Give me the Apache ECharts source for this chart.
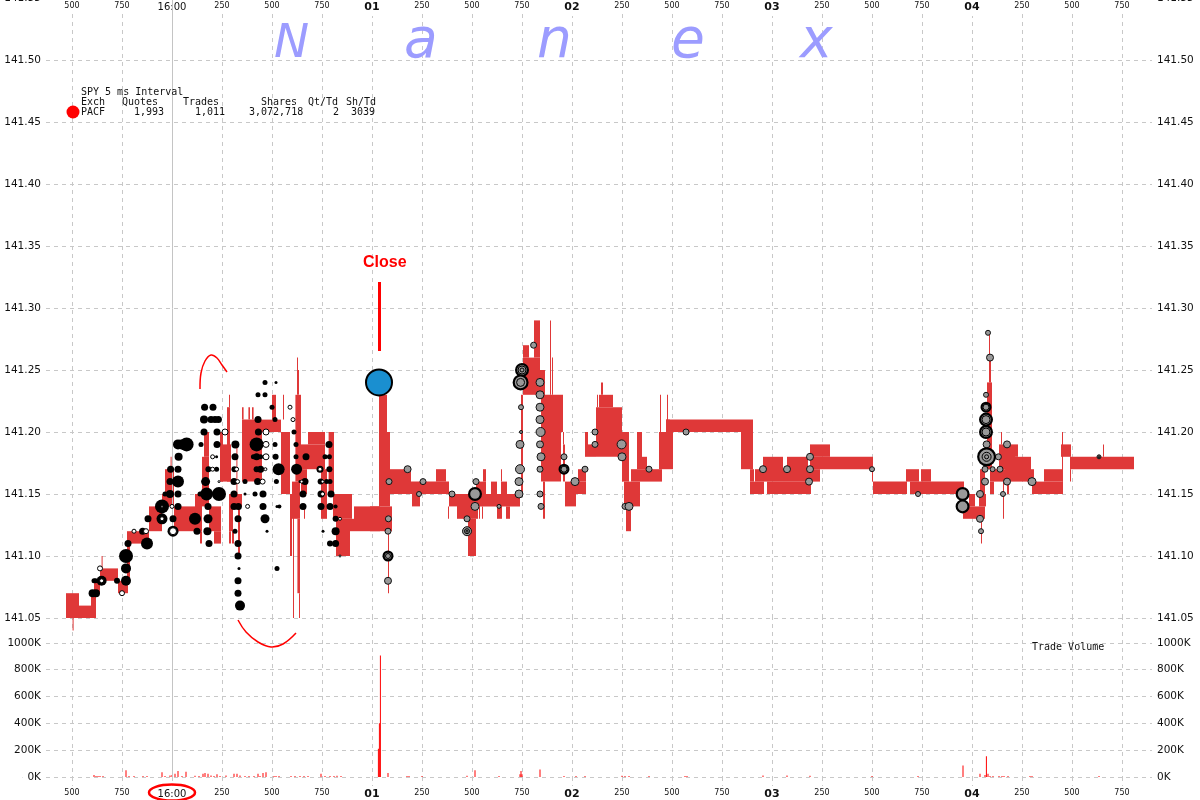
<!DOCTYPE html>
<html><head><meta charset="utf-8">
<style>html,body{margin:0;padding:0;background:#fff}#c{width:1200px;height:800px}</style>
<script src="https://cdn.jsdelivr.net/npm/echarts@6/dist/echarts.min.js"></script>
</head><body><div id="c"></div>
<script>
// time is milliseconds after 16:00:00
const majorTickLabels = ['16:00','01','02','03','04'];
const priceTicksMin = 141.05, priceTicksMax = 141.55;
const summaryRow = ['PACF','1,993','1,011','3,072,718','2','3039'];
const summaryHead = ['Exch','Quotes','Trades','Shares','Qt/Td','Sh/Td'];

// [start, end, low, high]
const quoteBand = [
[-530,-465,141.05,141.07],[-465,-405,141.05,141.06],[-405,-380,141.05,141.07],[-497,-492,141.04,141.05],
[-390,-360,141.07,141.08],[-360,-270,141.08,141.09],[-352,-347,141.09,141.10],[-270,-220,141.07,141.08],
[-225,-210,141.08,141.11],[-225,-115,141.11,141.12],[-115,-50,141.12,141.14],[-50,-35,141.14,141.15],
[-35,10,141.14,141.17],[-7,-2,141.17,141.18],[10,115,141.12,141.14],[115,150,141.12,141.15],[140,150,141.11,141.12],
[150,185,141.14,141.18],[160,185,141.18,141.20],[185,245,141.12,141.14],[210,245,141.11,141.12],[240,255,141.16,141.20],
[245,295,141.16,141.19],[275,290,141.16,141.22],[285,290,141.22,141.23],[285,305,141.12,141.15],[285,295,141.11,141.12],
[300,310,141.11,141.12],[322,327,141.15,141.19],[330,340,141.10,141.14],[305,350,141.14,141.15],
[350,450,141.16,141.21],[350,358,141.21,141.22],[382,390,141.21,141.22],[400,408,141.21,141.22],[450,545,141.20,141.21],
[500,520,141.21,141.23],[555,560,141.21,141.23],[545,590,141.15,141.20],[590,600,141.10,141.15],[605,610,141.05,141.14],
[600,640,141.13,141.16],[617,645,141.16,141.23],[625,630,141.23,141.26],[630,635,141.23,141.25],[627,640,141.07,141.13],
[635,640,141.05,141.07],[640,765,141.17,141.19],[680,765,141.19,141.20],[660,665,141.13,141.14],[645,675,141.15,141.17],
[745,775,141.13,141.17],[783,810,141.15,141.20],[805,900,141.13,141.15],[820,890,141.10,141.13],[890,910,141.12,141.13],
[910,1040,141.12,141.14],
[990,1100,141.12,141.14],[1035,1075,141.14,141.23],[1075,1090,141.14,141.20],[1080,1085,141.07,141.12],[1090,1195,141.15,141.17],
[1195,1385,141.15,141.16],[1320,1370,141.16,141.17],[1200,1240,141.14,141.15],[1385,1425,141.14,141.15],[1380,1385,141.13,141.14],
[1425,1530,141.13,141.15],[1530,1740,141.14,141.15],[1480,1520,141.10,141.13],[1520,1570,141.15,141.16],[1555,1570,141.16,141.17],
[1535,1540,141.13,141.14],[1550,1555,141.13,141.14],[1595,1625,141.15,141.16],[1625,1650,141.13,141.14],[1645,1650,141.16,141.17],
[1645,1675,141.15,141.16],[1670,1690,141.13,141.14],[1745,1755,141.15,141.23],[1755,1840,141.23,141.26],[1755,1785,141.26,141.27],
[1810,1840,141.26,141.29],[1840,1865,141.23,141.25],[1845,1945,141.16,141.23],[1945,1955,141.20,141.23],[1855,1865,141.13,141.16],
[1890,1895,141.23,141.29],[1900,1905,141.23,141.26],[1955,1965,141.16,141.19],[1955,1960,141.19,141.20],[1965,2020,141.14,141.16],
[2020,2070,141.15,141.16],[2030,2070,141.16,141.17],[2065,2080,141.18,141.20],[2080,2120,141.18,141.19],[2120,2250,141.18,141.22],
[2135,2205,141.22,141.23],[2145,2155,141.23,141.24],[2125,2130,141.22,141.23],[2250,2285,141.16,141.20],[2270,2295,141.12,141.14],
[2260,2340,141.14,141.16],[2295,2450,141.16,141.17],[2325,2350,141.17,141.20],[2350,2375,141.17,141.18],[2435,2505,141.17,141.20],
[2440,2445,141.20,141.23],[2475,2480,141.20,141.23],[2470,2490,141.20,141.21],[2470,2905,141.20,141.21],[2845,2905,141.17,141.20],
[2890,2910,141.16,141.17],[2890,2960,141.15,141.16],[2915,2955,141.16,141.17],[2955,3055,141.16,141.18],[2975,3195,141.15,141.16],
[3055,3075,141.16,141.17],[3075,3180,141.16,141.18],[3180,3240,141.16,141.17],[3190,3290,141.18,141.19],[3190,3505,141.17,141.18],
[3500,3505,141.16,141.17],[3505,3675,141.15,141.16],[3670,3735,141.16,141.17],[3690,3960,141.15,141.16],[3745,3795,141.16,141.17],
[3955,4065,141.13,141.14],[3985,4015,141.14,141.15],[4035,4070,141.14,141.15],[4040,4065,141.15,141.17],[4045,4050,141.11,141.13],
[4075,4100,141.17,141.24],[4085,4095,141.24,141.26],[4085,4090,141.26,141.28],[4090,4110,141.15,141.16],[4090,4175,141.16,141.17],
[4135,4175,141.17,141.19],[4145,4150,141.19,141.20],[4165,4215,141.16,141.19],[4155,4160,141.13,141.16],[4175,4185,141.15,141.16],
[4215,4230,141.18,141.19],[4215,4295,141.16,141.18],[4295,4310,141.16,141.17],[4300,4455,141.15,141.16],[4360,4455,141.16,141.17],
[4445,4495,141.18,141.19],[4450,4455,141.16,141.20],[4490,4495,141.16,141.17],[4490,4810,141.17,141.18],[4655,4660,141.18,141.19]
];

// [time, price, shares]
const tradesBeforeClose = [
[-397,141.07,6400],[-380,141.07,6400],[-390,141.08,2500],[-382,141.08,2500],[-352,141.08,10000],[-275,141.08,3600],
[-230,141.08,10000],[-230,141.09,10000],[-230,141.10,19600],[-220,141.11,4900],[-147,141.12,4900],[-125,141.11,14400],
[-120,141.13,4900],[-50,141.13,12100],[-50,141.14,19600],[5,141.12,12100],[5,141.13,4900],[30,141.14,4900],[30,141.15,4900],
[-10,141.15,6400],[-35,141.15,2500],[30,141.16,14400],[-10,141.16,4900],[-7,141.17,4900],[30,141.17,4900],[33,141.18,6400],
[30,141.19,10000],[48,141.19,10000],[73,141.19,19600],[140,141.15,2500],[173,141.15,16900],[115,141.13,14400],[125,141.12,4900],
[177,141.12,6400],[185,141.11,4900],[180,141.13,8100],[180,141.14,4900],[168,141.16,8100],[235,141.15,19600],[182,141.17,3600],
[223,141.17,2500],[223,141.18,900],[225,141.19,4900],[145,141.19,2500],[160,141.20,4900],[225,141.20,4900],[160,141.21,6400],
[195,141.21,4900],[215,141.21,4900],[232,141.21,4900],[163,141.22,4900],[205,141.22,4900],
[317,141.19,6400],[315,141.18,4900],[312,141.17,3600],[310,141.16,4900],[365,141.16,2500],[310,141.15,4900],[365,141.15,900],
[310,141.14,4900],[332,141.14,4900],[330,141.13,4900],[315,141.12,2500],[330,141.11,4900],[330,141.10,4900],[335,141.09,900],
[330,141.08,4900],[330,141.07,4900],[340,141.06,10000],
[415,141.15,2500],[455,141.15,4900],[455,141.14,4900],[465,141.13,8100],[475,141.12,900],[428,141.16,4900],[423,141.17,3600],
[443,141.17,4900],[407,141.18,2500],[423,141.18,4900],[443,141.18,2500],[423,141.19,19600],[432,141.20,4900],[430,141.21,4900],
[515,141.21,2500],[500,141.22,2500],[430,141.23,2500],[465,141.23,2500],[465,141.24,2500],[520,141.24,900],[515,141.19,2500],
[518,141.18,3600],[533,141.17,14400],[522,141.16,2500],[525,141.14,900],[537,141.14,1600],[525,141.09,2500],[610,141.20,2500],
[620,141.19,2500],[620,141.18,2500],[670,141.18,4900],[623,141.17,12100],[665,141.16,4900],[640,141.16,900],[655,141.15,4900],
[655,141.14,4900],[787,141.17,3600],[743,141.16,3600],[773,141.16,2500],[790,141.16,2500],[795,141.15,4900],[745,141.14,4900],
[790,141.14,4900],[818,141.14,1600],[818,141.13,3600],[755,141.12,900],[818,141.12,6400],[790,141.11,3600],[818,141.11,4900],
[785,141.19,4900],[765,141.18,2500],[787,141.18,2500],[740,141.17,4900],[745,141.15,4900]
];
const oddLots = [
[-352,141.08,2500],[-360,141.09,3600],[-250,141.07,3600],[-190,141.12,2500],[-130,141.12,3600],[-50,141.13,2500],[-50,141.14,900],
[5,141.12,6400],[0,141.14,2500],[235,141.16,900],[203,141.17,2500],[203,141.18,2500],[265,141.20,4900],[323,141.17,2500],
[328,141.16,2500],[378,141.14,2500],[453,141.16,3600],[467,141.17,1600],[470,141.18,4900],[470,141.19,4900],[470,141.20,4900],
[605,141.21,2500],[590,141.22,2500],[648,141.16,1600],[740,141.17,2500],[753,141.16,1600],[753,141.15,2500],[840,141.13,1600],[840,141.10,900]
];
const tradesAfterClose = [
[1082,141.13,4900],[1080,141.12,4900],[1080,141.10,12100],[1080,141.08,6400],[1178,141.17,6400],[1085,141.16,4900],[1255,141.16,4900],
[1235,141.15,3600],[1400,141.15,4900],[1520,141.16,4900],[1515,141.15,19600],[1515,141.14,8100],[1475,141.13,4900],[1475,141.12,10000],
[1635,141.14,2500],[1808,141.27,4900],[1750,141.25,19600],[1743,141.24,25600],[1840,141.24,8100],[1840,141.23,8100],[1745,141.22,3600],
[1840,141.22,8100],[1840,141.21,8100],[1843,141.20,10000],[1745,141.20,1600],[1740,141.19,8100],[1840,141.19,6400],[1845,141.18,8100],
[1740,141.17,10000],[1840,141.17,4900],[1735,141.16,8100],[1735,141.15,8100],[1840,141.15,4900],[1845,141.14,4900],[1960,141.18,4900],
[1960,141.17,12100],[2015,141.16,8100],[2115,141.20,4900],[2115,141.19,4900],[2248,141.19,10000],[2250,141.18,8100],[2065,141.17,4900],
[2385,141.17,4900],[2265,141.14,4900],[2285,141.14,8100],[2570,141.20,4900],[2955,141.17,6400],[3075,141.17,6400],[3190,141.18,6400],
[3190,141.17,6400],[3185,141.16,6400],[3500,141.17,3600],[3730,141.15,3600],[3953,141.15,19600],[3953,141.14,19600],[4040,141.15,6400],
[4040,141.13,6400],[4045,141.12,3600],[4065,141.16,6400],[4065,141.17,4900],[4073,141.19,6400],[4073,141.18,36100],[4070,141.20,19600],
[4070,141.21,19600],[4070,141.22,12100],[4070,141.23,3600],[4090,141.26,6400],[4080,141.28,3600],[4132,141.18,4900],[4140,141.17,4900],
[4103,141.17,3600],[4155,141.15,3600],[4175,141.19,6400],[4175,141.16,6400],[4300,141.16,8100],[4635,141.18,2500]
];
const stackedTrades = [
[1080,141.10,3600],[1475,141.12,3600],[1475,141.12,900],[1750,141.25,8100],[1750,141.25,2500],[1743,141.24,8100],
[1960,141.17,4900],[4073,141.18,10000],[4073,141.18,2500],[4070,141.20,8100],[4070,141.21,8100],[4070,141.22,4900],[4635,141.18,400]
];
const closingCross = [[1035,141.24,78400]];

const volumeTimes = [-390,-380,-370,-360,-345,-230,-215,-190,-145,-125,-50,-35,-10,0,15,30,50,70,115,135,155,165,180,195,210,225,240,270,310,325,340,365,385,410,430,440,455,470,510,520,535,595,615,640,660,680,745,765,790,810,825,845,1032,1037,1042,1080,1175,1185,1250,1475,1515,1635,1740,1745,1750,1840,1960,2020,2065,2250,2265,2285,2385,2565,2575,2955,3075,3190,3500,3730,3955,4040,4065,4072,4080,4090,4105,4135,4150,4160,4180,4290,4300,4635];
const volumeValues = [15,8,5,5,5,50,5,5,5,5,35,5,12,15,25,45,5,40,10,8,25,30,25,12,8,20,8,12,25,25,12,5,5,8,25,8,30,35,8,5,8,5,5,5,5,5,25,8,5,5,10,5,210,400,905,30,5,5,5,10,50,5,20,45,20,55,5,5,5,10,5,5,5,5,5,12,12,10,5,5,85,25,15,155,25,8,5,5,5,5,5,5,5,5];

const mono = '"DejaVu Sans Mono", monospace';
const sans = '"DejaVu Sans", sans-serif';
const gridLine = {color:'#c8c8c8', type:[4,4], width:1};
const sizeOf = d => Math.sqrt(d[2]/100);

function tickText(v){
  if (v % 250 !== 0 || v < -500) return '';
  if (v % 1000 === 0) {
    const s = majorTickLabels[v/1000];
    return v === 0 ? '{noon|'+s+'}' : '{major|'+s+'}';
  }
  return '{minor|'+(((v%1000)+1000)%1000)+'}';
}
const tickRich = {
  minor:{fontFamily:sans,fontSize:8,color:'#111'},
  noon:{fontFamily:sans,fontSize:10,color:'#111'},
  major:{fontFamily:sans,fontSize:11,fontWeight:'bold',color:'#111'}
};
const xCommon = {type:'value',min:-750,max:4900,interval:250,
  axisLine:{show:false},
  splitLine:{show:true,showMinLine:false,showMaxLine:false,lineStyle:gridLine}};
function yPrice(pos){return {type:'value',gridIndex:0,position:pos,min:priceTicksMin,max:priceTicksMax,interval:0.05,
  offset:pos==='left'?-24:0,
  axisLine:{show:false},axisTick:{show:false},
  splitLine:{show:pos==='left',lineStyle:gridLine},
  axisLabel:{fontFamily:sans,fontSize:10.5,color:'#111',margin:0,padding:[1,5,1,5],backgroundColor:pos==='left'?'#fff':'transparent',formatter:v=>v.toFixed(2)}};}
function yVol(pos){return {type:'value',gridIndex:1,position:pos,min:0,max:1200,interval:200,
  offset:pos==='left'?-24:0,
  axisLine:{show:false},axisTick:{show:false},
  splitLine:{show:pos==='left',showMaxLine:false,lineStyle:gridLine},
  axisLabel:{fontFamily:sans,fontSize:10.5,color:'#111',margin:0,padding:[1,5,1,5],backgroundColor:pos==='left'?'#fff':'transparent',showMaxLabel:false,formatter:v=>v+'K'}};}
function dots(name,data,fill,border,bw,z){return {name,type:'scatter',xAxisIndex:0,yAxisIndex:0,data,symbol:'circle',
  symbolSize:d=>Math.max(sizeOf(d)-bw,2),itemStyle:{color:fill,borderColor:border,borderWidth:bw,opacity:1},z,silent:true,animation:false,clip:false};}
function noteText(text,x,y,extra){return {type:'text',x,y,silent:true,z:50,
  style:Object.assign({text,fontFamily:mono,fontSize:10,fill:'#111'},extra||{})};}
const headX = [81,122,183,261,308,346], rowX=[81,134,195,249,333,351];

const chart = echarts.init(document.getElementById('c'),null,{renderer:'canvas'});
chart.setOption({
  animation:false,
  backgroundColor:'#fff',
  grid:[{left:22,width:1130,top:-2,height:620,outerBoundsMode:'none'},{left:22,width:1130,top:616,height:161,outerBoundsMode:'none'}],
  xAxis:[
    Object.assign({},xCommon,{gridIndex:0,position:'top',axisTick:{show:false},
      axisLabel:{inside:true,margin:2,formatter:tickText,rich:tickRich,showMinLabel:false,showMaxLabel:false,
        backgroundColor:'#fff',padding:[2,3,3,3],verticalAlign:'top'}}),
    Object.assign({},xCommon,{gridIndex:1,position:'bottom',
      axisTick:{show:true,length:9,lineStyle:gridLine},
      axisLabel:{margin:12,formatter:tickText,rich:tickRich,showMinLabel:false,showMaxLabel:false}})
  ],
  yAxis:[yPrice('left'),yPrice('right'),yVol('left'),yVol('right')],
  series:[
    {name:'16:00',type:'line',xAxisIndex:0,yAxisIndex:0,data:[],z:1,silent:true,
      markLine:{silent:true,symbol:'none',label:{show:false},lineStyle:{color:'#c4c4c4',type:'solid',width:1},data:[{xAxis:0}]}},
    {name:'16:00 volume',type:'line',xAxisIndex:1,yAxisIndex:2,data:[],z:1,silent:true,
      markLine:{silent:true,symbol:'none',label:{show:false},lineStyle:{color:'#c4c4c4',type:'solid',width:1},data:[{xAxis:0}]}},
    {name:'Quote band',type:'custom',xAxisIndex:0,yAxisIndex:0,data:quoteBand,z:3,silent:true,clip:false,
      encode:{x:[0,1],y:[2,3]},
      renderItem:(p,api)=>{
        const a=api.coord([api.value(0),api.value(3)]), b=api.coord([api.value(1),api.value(2)]);
        return {type:'rect',shape:{x:a[0],y:a[1],width:b[0]-a[0],height:b[1]-a[1]},style:{fill:'#df3838'}};
      }},
    dots('Trades',tradesBeforeClose,'#000','#000',0,5),
    dots('Odd lots',oddLots,'#fff','#000',1,6),
    dots('After close',tradesAfterClose.filter(d=>sizeOf(d)<11),'#999','#111',1,5),
    dots('After close large',tradesAfterClose.filter(d=>sizeOf(d)>=11),'#999','#000',2.2,5),
    dots('Stacked',stackedTrades,'#999','#000',1,6),
    dots('Close',closingCross,'#1a8fd0','#000',2,7),
    {name:'Volume',type:'bar',xAxisIndex:1,yAxisIndex:2,barWidth:1,barMinHeight:1,z:3,silent:true,
      data:volumeTimes.map((t,i)=>[t,volumeValues[i]]),itemStyle:{color:'#f00'}}
  ],
  graphic:[
    ...['N','a','n','e','x'].map((c,i)=>({type:'text',silent:true,x:[274,404,537,671,800][i],y:i===0?68:70,z:40,
      style:{text:c,fontFamily:'"DejaVu Sans",sans-serif',fontStyle:'oblique',fontSize:i===0?47:55,fill:'#9c9cff',textVerticalAlign:'bottom',textBaseline:'bottom'}})),
    noteText('SPY 5 ms Interval',81,87),
    ...summaryHead.map((t,i)=>noteText(t,headX[i],97)),
    ...summaryRow.map((t,i)=>noteText(t,rowX[i],107)),
    {type:'circle',silent:true,z:40,shape:{cx:73,cy:112,r:6.5},style:{fill:'#f00'}},
    noteText('Trade Volume',1032,642),
    {type:'text',silent:true,z:40,x:363,y:255,style:{text:'Close',fontFamily:'"Liberation Sans",sans-serif',fontWeight:'bold',fontSize:16,fill:'#f00'}},
    {type:'line',silent:true,z:40,shape:{x1:379.5,y1:282,x2:379.5,y2:351},style:{stroke:'#f00',lineWidth:3}},
    {type:'polyline',silent:true,z:40,shape:{smooth:0.4,points:[[200,389],[201,373],[205,361],[211,355],[217,358],[222,365],[227,372]]},style:{stroke:'#f00',lineWidth:1.5,fill:'none'}},
    {type:'polyline',silent:true,z:40,shape:{smooth:0.4,points:[[238,620],[246,632],[258,642],[271,647],[283,644],[296,633]]},style:{stroke:'#f00',lineWidth:1.5,fill:'none'}},
    {type:'ellipse',silent:true,z:40,shape:{cx:172,cy:792.5,rx:23,ry:8},style:{stroke:'#f00',lineWidth:2.5,fill:'none'}}
  ]
});
</script></body></html>
